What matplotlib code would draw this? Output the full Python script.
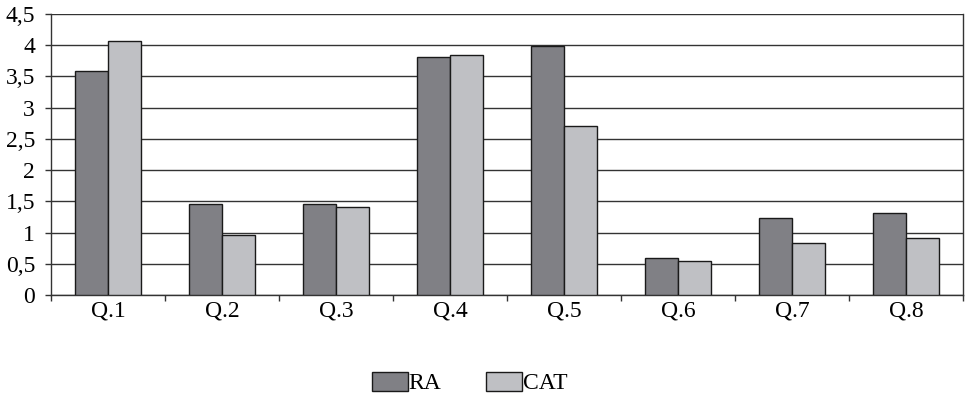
import numpy as np
import matplotlib.pyplot as plt
from matplotlib.ticker import FuncFormatter, FixedLocator

categories = ["Q.1", "Q.2", "Q.3", "Q.4", "Q.5", "Q.6", "Q.7", "Q.8"]
ra = [3.58, 1.45, 1.45, 3.81, 3.99, 0.60, 1.24, 1.31]
cat = [4.06, 0.96, 1.41, 3.84, 2.71, 0.55, 0.83, 0.91]
yticks = [0, 0.5, 1, 1.5, 2, 2.5, 3, 3.5, 4, 4.5]

plt.rcParams['font.family'] = ['Liberation Serif', 'DejaVu Serif']
fs = 17

fig = plt.figure(figsize=(9.69, 3.99), dpi=100)
ax = fig.add_axes([51/969, 1-295/399, (963-51)/969, (295-14)/399])

x = np.arange(len(categories))
w = 0.29
ax.bar(x - w/2, ra, w, color='#808085', edgecolor='#1a1a1a', linewidth=1.0, label='RA', zorder=3)
ax.bar(x + w/2, cat, w, color='#bfc0c4', edgecolor='#1a1a1a', linewidth=1.0, label='CAT', zorder=3)

ax.set_xlim(-0.5, len(categories) - 0.5)
ax.set_ylim(0, 4.5)
ax.set_yticks(yticks)
ax.yaxis.set_major_formatter(FuncFormatter(lambda v, p: ('%g' % v).replace('.', ',')))
ax.set_xticks(x)
ax.set_xticklabels(categories)
ax.xaxis.set_minor_locator(FixedLocator(np.arange(-0.5, len(categories), 1.0)))
ax.tick_params(axis='x', which='major', length=0, labelsize=fs, pad=4)
ax.tick_params(axis='x', which='minor', length=4.5, width=1, color='#333333')
ax.tick_params(axis='y', length=4.5, width=1, color='#333333', labelsize=fs, pad=7)

ax.yaxis.grid(True, color='#333333', linewidth=1.0, zorder=0)
for s in ['left', 'bottom', 'right']:
    ax.spines[s].set_color('#333333')
    ax.spines[s].set_linewidth(1.0)
ax.spines['top'].set_visible(False)

fig.legend(loc='center', bbox_to_anchor=(0.485, 1-383/399), ncol=2, frameon=False,
           fontsize=fs, handlelength=1.5, handleheight=0.9, handletextpad=0.05,
           columnspacing=1.9)

fig.savefig('out.png', dpi=100)
